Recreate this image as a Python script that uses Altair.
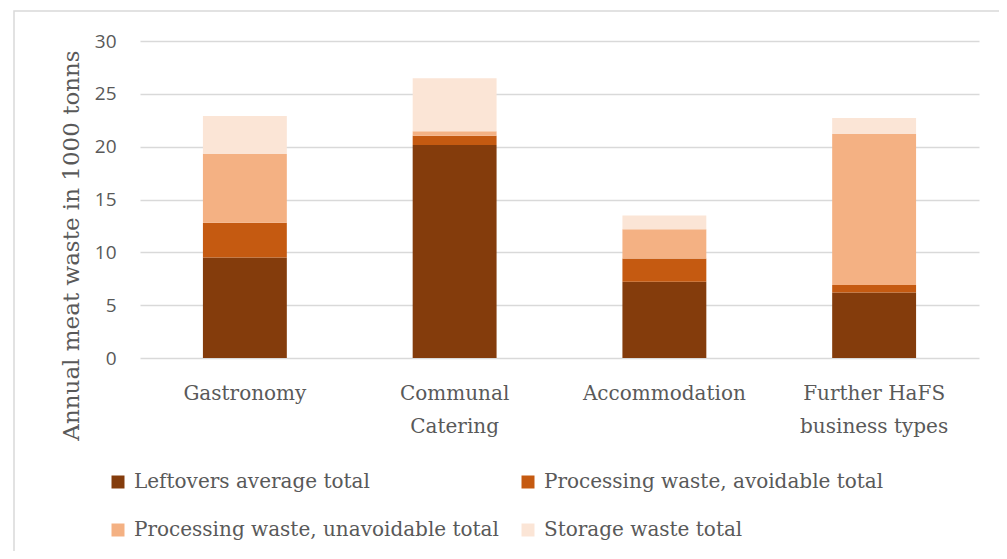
import altair as alt
import pandas as pd

categories = ["Gastronomy", "Communal Catering", "Accommodation", "Further HaFS business types"]
series_names = [
    "Leftovers average total",
    "Processing waste, avoidable total",
    "Processing waste, unavoidable total",
    "Storage waste total",
]
leftovers = [9.5, 20.15, 7.22, 6.21]
avoidable = [3.3, 0.88, 2.2, 0.7]
unavoidable = [6.5, 0.44, 2.77, 14.3]
storage = [3.6, 5.0, 1.3, 1.5]
colors = ["#843C0C", "#C55A11", "#F4B183", "#FBE5D6"]
y_ticks = [0, 5, 10, 15, 20, 25, 30]

rows = []
for si, (name, vals) in enumerate(zip(series_names, [leftovers, avoidable, unavoidable, storage])):
    for c, v in zip(categories, vals):
        rows.append({"category": c, "series": name, "value": v, "order": si})
df = pd.DataFrame(rows)

SERIF = "DejaVu Serif"
SANS = "Open Sans"
GRAY = "#595959"

label_expr = (
    "datum.label == 'Communal Catering' ? ['Communal', 'Catering'] : "
    "datum.label == 'Further HaFS business types' ? ['Further HaFS', 'business types'] : datum.label"
)

bars = alt.Chart(df).mark_bar().encode(
    x=alt.X(
        "category:N",
        sort=categories,
        scale=alt.Scale(paddingInner=0.6, paddingOuter=0.3),
        axis=alt.Axis(
            title=None,
            labelExpr=label_expr,
            labelFont=SERIF,
            labelFontSize=20,
            labelColor=GRAY,
            labelLineHeight=33,
            labelPadding=25,
            labelAngle=0,
            ticks=False,
            domain=False,
        ),
    ),
    y=alt.Y(
        "value:Q",
        stack="zero",
        scale=alt.Scale(domain=[0, 30], nice=False),
        axis=alt.Axis(
            values=y_ticks,
            title="Annual meat waste in 1000 tonns",
            titleFont=SERIF,
            titleFontSize=23,
            titleFontWeight="normal",
            titleColor=GRAY,
            titleX=-62,
            titleY=204,
            titleBaseline="alphabetic",
            labelFont=SANS,
            labelFontSize=19,
            labelColor=GRAY,
            labelPadding=24,
            ticks=False,
            domain=False,
            gridColor="#d9d9d9",
            gridWidth=1.5,
        ),
    ),
    color=alt.Color(
        "series:N",
        sort=series_names,
        scale=alt.Scale(domain=series_names, range=colors),
        legend=alt.Legend(
            title=None,
            orient="none",
            direction="horizontal",
            legendX=-32,
            legendY=431,
            padding=0,
            columns=2,
            columnPadding=19,
            rowPadding=28,
            symbolType="square",
            symbolSize=169,
            symbolStrokeWidth=0,
            labelFont=SERIF,
            labelFontSize=20,
            labelColor=GRAY,
            labelOffset=6,
            labelLimit=0,
        ),
    ),
    order=alt.Order("order:Q", sort="ascending"),
)

border = alt.Chart(pd.DataFrame({"a": [0]})).mark_rect(
    fillOpacity=0, stroke="#d9d9d9", strokeWidth=1.5
).encode(
    x=alt.value(-126), x2=alt.value(1200), y=alt.value(-30), y2=alt.value(800)
)

chart = alt.layer(border, bars).properties(
    width=839,
    height=317,
    autosize=alt.AutoSizeParams(type="none"),
    padding={"left": 132, "top": 33, "right": 20, "bottom": 193},
    background="white",
).configure_view(stroke=None)

chart.save("out.html", embed_options={"renderer": "svg", "actions": False})
